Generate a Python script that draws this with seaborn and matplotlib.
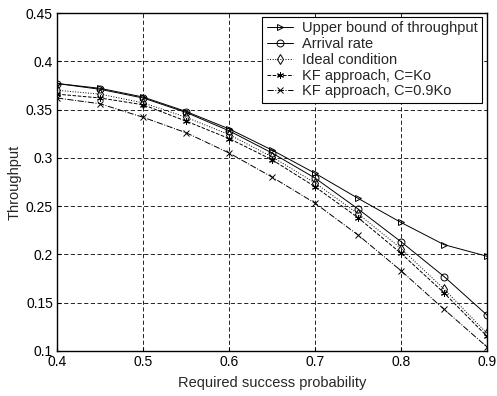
import matplotlib
matplotlib.use("Agg")
import matplotlib.pyplot as plt
import seaborn as sns

# required success probability
x = [0.40, 0.45, 0.50, 0.55, 0.60, 0.65, 0.70, 0.75, 0.80, 0.85, 0.90]

upper_bound = [0.377, 0.372, 0.363, 0.348, 0.330, 0.308, 0.284, 0.258, 0.233, 0.210, 0.198]
arrival_rate = [0.377, 0.371, 0.362, 0.347, 0.328, 0.305, 0.279, 0.247, 0.213, 0.177, 0.137]
ideal = [0.370, 0.366, 0.357, 0.342, 0.324, 0.301, 0.274, 0.242, 0.206, 0.164, 0.118]
kf_ko = [0.366, 0.362, 0.355, 0.338, 0.320, 0.298, 0.270, 0.238, 0.201, 0.160, 0.115]
kf_09ko = [0.362, 0.356, 0.342, 0.326, 0.305, 0.280, 0.253, 0.220, 0.183, 0.143, 0.104]

labels = ["Upper bound of throughput", "Arrival rate", "Ideal condition",
          "KF approach, C=Ko", "KF approach, C=0.9Ko"]

sns.set_style("ticks")
plt.rcParams["font.family"] = ["Liberation Sans", "DejaVu Sans"]

fig = plt.figure(figsize=(4.97, 3.96), dpi=100)
ax = fig.add_axes([0.115, 0.114, 0.865, 0.853])

series = [upper_bound, arrival_rate, ideal, kf_ko, kf_09ko]
markers = [">", "o", "d", (6, 2, 0), "x"]
styles = ["-", "-", ":", "--", "-."]
for y, lab, m, ls in zip(series, labels, markers, styles):
    sns.lineplot(x=x, y=y, ax=ax, color="k", marker=m, linestyle=ls, linewidth=0.7,
                 markersize=5, markerfacecolor="none", markeredgecolor="k",
                 markeredgewidth=0.7, label=lab)

ax.set_xlim(0.4, 0.9)
ax.set_ylim(0.1, 0.45)
ax.set_xticks([0.4, 0.5, 0.6, 0.7, 0.8, 0.9])
ax.set_xticklabels(["0.4", "0.5", "0.6", "0.7", "0.8", "0.9"])
ax.set_yticks([0.1, 0.15, 0.2, 0.25, 0.3, 0.35, 0.4, 0.45])
ax.set_yticklabels(["0.1", "0.15", "0.2", "0.25", "0.3", "0.35", "0.4", "0.45"])
ax.grid(True, color="k", linestyle=(0, (5, 3)), linewidth=0.6)
ax.tick_params(direction="in", length=3, width=0.8, labelsize=10, colors="k", pad=3)
for s in ax.spines.values():
    s.set_visible(True)
    s.set_color("k")
    s.set_linewidth(1.0)

ax.set_xlabel("Required success probability", fontsize=10.5, labelpad=5)
ax.set_ylabel("Throughput", fontsize=10.5, labelpad=3)

leg = ax.legend(loc="upper right", bbox_to_anchor=(0.988, 0.988), borderaxespad=0,
                fancybox=False, framealpha=1, edgecolor="k", fontsize=10.5,
                handlelength=1.8, handletextpad=0.6, labelspacing=0.12,
                borderpad=0.3)
leg.get_frame().set_linewidth(0.8)

fig.savefig("out.png", dpi=100)
